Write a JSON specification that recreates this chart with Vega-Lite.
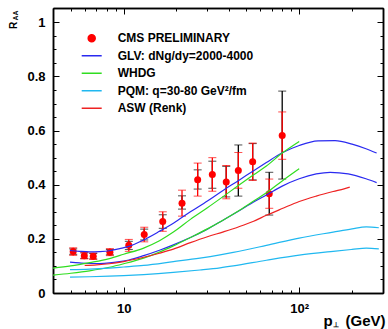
{
  "$schema": "https://vega.github.io/schema/vega-lite/v6.json",
  "width": 330,
  "height": 285,
  "autosize": "none",
  "padding": {"left": 53, "top": 8, "right": 5, "bottom": 36},
  "background": "white",
  "config": {
    "font": "Liberation Sans",
    "view": {"stroke": null},
    "axis": {"grid": false, "domainColor": "black", "domainWidth": 1.5, "tickColor": "black", "tickWidth": 1, "labelColor": "black", "titleColor": "black", "labelFont": "Liberation Sans", "titleFont": "Liberation Sans", "labelFontWeight": "bold", "titleFontWeight": "bold", "labelFlush": false, "labelOverlap": false}
  },
  "datasets": {
    "curves": [
      {"model": "GLV: dNg/dy=2000-4000", "curve": "GLV_2000", "pt": 4.95, "raa": 0.157},
      {"model": "GLV: dNg/dy=2000-4000", "curve": "GLV_2000", "pt": 5.6, "raa": 0.154},
      {"model": "GLV: dNg/dy=2000-4000", "curve": "GLV_2000", "pt": 6.4, "raa": 0.152},
      {"model": "GLV: dNg/dy=2000-4000", "curve": "GLV_2000", "pt": 7.3, "raa": 0.153},
      {"model": "GLV: dNg/dy=2000-4000", "curve": "GLV_2000", "pt": 8.3, "raa": 0.156},
      {"model": "GLV: dNg/dy=2000-4000", "curve": "GLV_2000", "pt": 9.5, "raa": 0.164},
      {"model": "GLV: dNg/dy=2000-4000", "curve": "GLV_2000", "pt": 10.7, "raa": 0.172},
      {"model": "GLV: dNg/dy=2000-4000", "curve": "GLV_2000", "pt": 13, "raa": 0.196},
      {"model": "GLV: dNg/dy=2000-4000", "curve": "GLV_2000", "pt": 16, "raa": 0.228},
      {"model": "GLV: dNg/dy=2000-4000", "curve": "GLV_2000", "pt": 19.2, "raa": 0.258},
      {"model": "GLV: dNg/dy=2000-4000", "curve": "GLV_2000", "pt": 24, "raa": 0.3},
      {"model": "GLV: dNg/dy=2000-4000", "curve": "GLV_2000", "pt": 30, "raa": 0.34},
      {"model": "GLV: dNg/dy=2000-4000", "curve": "GLV_2000", "pt": 37, "raa": 0.38},
      {"model": "GLV: dNg/dy=2000-4000", "curve": "GLV_2000", "pt": 45, "raa": 0.415},
      {"model": "GLV: dNg/dy=2000-4000", "curve": "GLV_2000", "pt": 55, "raa": 0.452},
      {"model": "GLV: dNg/dy=2000-4000", "curve": "GLV_2000", "pt": 65, "raa": 0.482},
      {"model": "GLV: dNg/dy=2000-4000", "curve": "GLV_2000", "pt": 80, "raa": 0.518},
      {"model": "GLV: dNg/dy=2000-4000", "curve": "GLV_2000", "pt": 100, "raa": 0.545},
      {"model": "GLV: dNg/dy=2000-4000", "curve": "GLV_2000", "pt": 128, "raa": 0.562},
      {"model": "GLV: dNg/dy=2000-4000", "curve": "GLV_2000", "pt": 160, "raa": 0.563},
      {"model": "GLV: dNg/dy=2000-4000", "curve": "GLV_2000", "pt": 200, "raa": 0.55},
      {"model": "GLV: dNg/dy=2000-4000", "curve": "GLV_2000", "pt": 240, "raa": 0.533},
      {"model": "GLV: dNg/dy=2000-4000", "curve": "GLV_2000", "pt": 276, "raa": 0.517},
      {"model": "GLV: dNg/dy=2000-4000", "curve": "GLV_4000", "pt": 4.95, "raa": 0.114},
      {"model": "GLV: dNg/dy=2000-4000", "curve": "GLV_4000", "pt": 5.6, "raa": 0.111},
      {"model": "GLV: dNg/dy=2000-4000", "curve": "GLV_4000", "pt": 6.4, "raa": 0.109},
      {"model": "GLV: dNg/dy=2000-4000", "curve": "GLV_4000", "pt": 7.3, "raa": 0.109},
      {"model": "GLV: dNg/dy=2000-4000", "curve": "GLV_4000", "pt": 8.3, "raa": 0.111},
      {"model": "GLV: dNg/dy=2000-4000", "curve": "GLV_4000", "pt": 9.5, "raa": 0.116},
      {"model": "GLV: dNg/dy=2000-4000", "curve": "GLV_4000", "pt": 10.7, "raa": 0.122},
      {"model": "GLV: dNg/dy=2000-4000", "curve": "GLV_4000", "pt": 13, "raa": 0.138},
      {"model": "GLV: dNg/dy=2000-4000", "curve": "GLV_4000", "pt": 16, "raa": 0.158},
      {"model": "GLV: dNg/dy=2000-4000", "curve": "GLV_4000", "pt": 19.2, "raa": 0.178},
      {"model": "GLV: dNg/dy=2000-4000", "curve": "GLV_4000", "pt": 24, "raa": 0.205},
      {"model": "GLV: dNg/dy=2000-4000", "curve": "GLV_4000", "pt": 30, "raa": 0.236},
      {"model": "GLV: dNg/dy=2000-4000", "curve": "GLV_4000", "pt": 37, "raa": 0.27},
      {"model": "GLV: dNg/dy=2000-4000", "curve": "GLV_4000", "pt": 45, "raa": 0.302},
      {"model": "GLV: dNg/dy=2000-4000", "curve": "GLV_4000", "pt": 55, "raa": 0.336},
      {"model": "GLV: dNg/dy=2000-4000", "curve": "GLV_4000", "pt": 65, "raa": 0.362},
      {"model": "GLV: dNg/dy=2000-4000", "curve": "GLV_4000", "pt": 80, "raa": 0.395},
      {"model": "GLV: dNg/dy=2000-4000", "curve": "GLV_4000", "pt": 100, "raa": 0.422},
      {"model": "GLV: dNg/dy=2000-4000", "curve": "GLV_4000", "pt": 125, "raa": 0.44},
      {"model": "GLV: dNg/dy=2000-4000", "curve": "GLV_4000", "pt": 150, "raa": 0.446},
      {"model": "GLV: dNg/dy=2000-4000", "curve": "GLV_4000", "pt": 190, "raa": 0.44},
      {"model": "GLV: dNg/dy=2000-4000", "curve": "GLV_4000", "pt": 240, "raa": 0.422},
      {"model": "GLV: dNg/dy=2000-4000", "curve": "GLV_4000", "pt": 276, "raa": 0.408},
      {"model": "WHDG", "curve": "WHDG_hi", "pt": 3.96, "raa": 0.092},
      {"model": "WHDG", "curve": "WHDG_hi", "pt": 5, "raa": 0.1},
      {"model": "WHDG", "curve": "WHDG_hi", "pt": 6.4, "raa": 0.112},
      {"model": "WHDG", "curve": "WHDG_hi", "pt": 8.3, "raa": 0.127},
      {"model": "WHDG", "curve": "WHDG_hi", "pt": 10, "raa": 0.143},
      {"model": "WHDG", "curve": "WHDG_hi", "pt": 13, "raa": 0.166},
      {"model": "WHDG", "curve": "WHDG_hi", "pt": 16, "raa": 0.193},
      {"model": "WHDG", "curve": "WHDG_hi", "pt": 19.2, "raa": 0.225},
      {"model": "WHDG", "curve": "WHDG_hi", "pt": 24, "raa": 0.272},
      {"model": "WHDG", "curve": "WHDG_hi", "pt": 30, "raa": 0.315},
      {"model": "WHDG", "curve": "WHDG_hi", "pt": 37, "raa": 0.357},
      {"model": "WHDG", "curve": "WHDG_hi", "pt": 45, "raa": 0.397},
      {"model": "WHDG", "curve": "WHDG_hi", "pt": 55, "raa": 0.437},
      {"model": "WHDG", "curve": "WHDG_hi", "pt": 65, "raa": 0.469},
      {"model": "WHDG", "curve": "WHDG_hi", "pt": 80, "raa": 0.517},
      {"model": "WHDG", "curve": "WHDG_hi", "pt": 100, "raa": 0.56},
      {"model": "WHDG", "curve": "WHDG_lo", "pt": 3.96, "raa": 0.066},
      {"model": "WHDG", "curve": "WHDG_lo", "pt": 5, "raa": 0.073},
      {"model": "WHDG", "curve": "WHDG_lo", "pt": 6.4, "raa": 0.082},
      {"model": "WHDG", "curve": "WHDG_lo", "pt": 8.3, "raa": 0.095},
      {"model": "WHDG", "curve": "WHDG_lo", "pt": 10, "raa": 0.108},
      {"model": "WHDG", "curve": "WHDG_lo", "pt": 13, "raa": 0.129},
      {"model": "WHDG", "curve": "WHDG_lo", "pt": 16, "raa": 0.151},
      {"model": "WHDG", "curve": "WHDG_lo", "pt": 19.2, "raa": 0.174},
      {"model": "WHDG", "curve": "WHDG_lo", "pt": 24, "raa": 0.205},
      {"model": "WHDG", "curve": "WHDG_lo", "pt": 30, "raa": 0.237},
      {"model": "WHDG", "curve": "WHDG_lo", "pt": 37, "raa": 0.27},
      {"model": "WHDG", "curve": "WHDG_lo", "pt": 45, "raa": 0.303},
      {"model": "WHDG", "curve": "WHDG_lo", "pt": 55, "raa": 0.34},
      {"model": "WHDG", "curve": "WHDG_lo", "pt": 65, "raa": 0.37},
      {"model": "WHDG", "curve": "WHDG_lo", "pt": 80, "raa": 0.414},
      {"model": "WHDG", "curve": "WHDG_lo", "pt": 100, "raa": 0.459},
      {"model": "PQM: q=30-80 GeV²/fm", "curve": "PQM_30", "pt": 4.95, "raa": 0.086},
      {"model": "PQM: q=30-80 GeV²/fm", "curve": "PQM_30", "pt": 6.4, "raa": 0.088},
      {"model": "PQM: q=30-80 GeV²/fm", "curve": "PQM_30", "pt": 8.3, "raa": 0.092},
      {"model": "PQM: q=30-80 GeV²/fm", "curve": "PQM_30", "pt": 10, "raa": 0.096},
      {"model": "PQM: q=30-80 GeV²/fm", "curve": "PQM_30", "pt": 13, "raa": 0.102},
      {"model": "PQM: q=30-80 GeV²/fm", "curve": "PQM_30", "pt": 19.2, "raa": 0.116},
      {"model": "PQM: q=30-80 GeV²/fm", "curve": "PQM_30", "pt": 27.2, "raa": 0.129},
      {"model": "PQM: q=30-80 GeV²/fm", "curve": "PQM_30", "pt": 35.4, "raa": 0.141},
      {"model": "PQM: q=30-80 GeV²/fm", "curve": "PQM_30", "pt": 42.1, "raa": 0.15},
      {"model": "PQM: q=30-80 GeV²/fm", "curve": "PQM_30", "pt": 65, "raa": 0.176},
      {"model": "PQM: q=30-80 GeV²/fm", "curve": "PQM_30", "pt": 100, "raa": 0.203},
      {"model": "PQM: q=30-80 GeV²/fm", "curve": "PQM_30", "pt": 156, "raa": 0.225},
      {"model": "PQM: q=30-80 GeV²/fm", "curve": "PQM_30", "pt": 200, "raa": 0.237},
      {"model": "PQM: q=30-80 GeV²/fm", "curve": "PQM_30", "pt": 241, "raa": 0.244},
      {"model": "PQM: q=30-80 GeV²/fm", "curve": "PQM_30", "pt": 284, "raa": 0.241},
      {"model": "PQM: q=30-80 GeV²/fm", "curve": "PQM_80", "pt": 4.95, "raa": 0.059},
      {"model": "PQM: q=30-80 GeV²/fm", "curve": "PQM_80", "pt": 6.4, "raa": 0.06},
      {"model": "PQM: q=30-80 GeV²/fm", "curve": "PQM_80", "pt": 8.3, "raa": 0.062},
      {"model": "PQM: q=30-80 GeV²/fm", "curve": "PQM_80", "pt": 10, "raa": 0.064},
      {"model": "PQM: q=30-80 GeV²/fm", "curve": "PQM_80", "pt": 13, "raa": 0.068},
      {"model": "PQM: q=30-80 GeV²/fm", "curve": "PQM_80", "pt": 19.2, "raa": 0.076},
      {"model": "PQM: q=30-80 GeV²/fm", "curve": "PQM_80", "pt": 27.2, "raa": 0.085},
      {"model": "PQM: q=30-80 GeV²/fm", "curve": "PQM_80", "pt": 35.4, "raa": 0.093},
      {"model": "PQM: q=30-80 GeV²/fm", "curve": "PQM_80", "pt": 42.1, "raa": 0.1},
      {"model": "PQM: q=30-80 GeV²/fm", "curve": "PQM_80", "pt": 65, "raa": 0.121},
      {"model": "PQM: q=30-80 GeV²/fm", "curve": "PQM_80", "pt": 100, "raa": 0.14},
      {"model": "PQM: q=30-80 GeV²/fm", "curve": "PQM_80", "pt": 156, "raa": 0.154},
      {"model": "PQM: q=30-80 GeV²/fm", "curve": "PQM_80", "pt": 200, "raa": 0.161},
      {"model": "PQM: q=30-80 GeV²/fm", "curve": "PQM_80", "pt": 241, "raa": 0.166},
      {"model": "PQM: q=30-80 GeV²/fm", "curve": "PQM_80", "pt": 284, "raa": 0.163},
      {"model": "ASW (Renk)", "curve": "ASW", "pt": 6.0, "raa": 0.102},
      {"model": "ASW (Renk)", "curve": "ASW", "pt": 7, "raa": 0.104},
      {"model": "ASW (Renk)", "curve": "ASW", "pt": 8.3, "raa": 0.108},
      {"model": "ASW (Renk)", "curve": "ASW", "pt": 10, "raa": 0.116},
      {"model": "ASW (Renk)", "curve": "ASW", "pt": 13, "raa": 0.132},
      {"model": "ASW (Renk)", "curve": "ASW", "pt": 16, "raa": 0.147},
      {"model": "ASW (Renk)", "curve": "ASW", "pt": 19.2, "raa": 0.162},
      {"model": "ASW (Renk)", "curve": "ASW", "pt": 24, "raa": 0.186},
      {"model": "ASW (Renk)", "curve": "ASW", "pt": 30, "raa": 0.208},
      {"model": "ASW (Renk)", "curve": "ASW", "pt": 37, "raa": 0.226},
      {"model": "ASW (Renk)", "curve": "ASW", "pt": 45, "raa": 0.244},
      {"model": "ASW (Renk)", "curve": "ASW", "pt": 55, "raa": 0.265},
      {"model": "ASW (Renk)", "curve": "ASW", "pt": 65, "raa": 0.287},
      {"model": "ASW (Renk)", "curve": "ASW", "pt": 80, "raa": 0.312},
      {"model": "ASW (Renk)", "curve": "ASW", "pt": 100, "raa": 0.338},
      {"model": "ASW (Renk)", "curve": "ASW", "pt": 125, "raa": 0.358},
      {"model": "ASW (Renk)", "curve": "ASW", "pt": 156, "raa": 0.375},
      {"model": "ASW (Renk)", "curve": "ASW", "pt": 180, "raa": 0.385},
      {"model": "ASW (Renk)", "curve": "ASW", "pt": 194, "raa": 0.391}
    ],
    "cms": [
      {"model": "CMS PRELIMINARY", "pt": 5.16, "raa": 0.153, "stat_lo": 0.139, "stat_hi": 0.167, "sys_lo": 0.143, "sys_hi": 0.163},
      {"model": "CMS PRELIMINARY", "pt": 5.97, "raa": 0.138, "stat_lo": 0.126, "stat_hi": 0.15, "sys_lo": 0.128, "sys_hi": 0.148},
      {"model": "CMS PRELIMINARY", "pt": 6.71, "raa": 0.136, "stat_lo": 0.124, "stat_hi": 0.148, "sys_lo": 0.126, "sys_hi": 0.146},
      {"model": "CMS PRELIMINARY", "pt": 8.35, "raa": 0.151, "stat_lo": 0.138, "stat_hi": 0.164, "sys_lo": 0.141, "sys_hi": 0.161},
      {"model": "CMS PRELIMINARY", "pt": 10.7, "raa": 0.176, "stat_lo": 0.154, "stat_hi": 0.198, "sys_lo": 0.161, "sys_hi": 0.191},
      {"model": "CMS PRELIMINARY", "pt": 13.1, "raa": 0.216, "stat_lo": 0.189, "stat_hi": 0.243, "sys_lo": 0.196, "sys_hi": 0.236},
      {"model": "CMS PRELIMINARY", "pt": 16.7, "raa": 0.264, "stat_lo": 0.228, "stat_hi": 0.3, "sys_lo": 0.239, "sys_hi": 0.289},
      {"model": "CMS PRELIMINARY", "pt": 21.5, "raa": 0.332, "stat_lo": 0.284, "stat_hi": 0.38, "sys_lo": 0.31, "sys_hi": 0.359},
      {"model": "CMS PRELIMINARY", "pt": 26.4, "raa": 0.418, "stat_lo": 0.358, "stat_hi": 0.48, "sys_lo": 0.384, "sys_hi": 0.455},
      {"model": "CMS PRELIMINARY", "pt": 32.0, "raa": 0.438, "stat_lo": 0.376, "stat_hi": 0.5, "sys_lo": 0.387, "sys_hi": 0.487},
      {"model": "CMS PRELIMINARY", "pt": 38.4, "raa": 0.41, "stat_lo": 0.348, "stat_hi": 0.471, "sys_lo": 0.355, "sys_hi": 0.468},
      {"model": "CMS PRELIMINARY", "pt": 45.0, "raa": 0.453, "stat_lo": 0.387, "stat_hi": 0.519, "sys_lo": 0.358, "sys_hi": 0.547},
      {"model": "CMS PRELIMINARY", "pt": 54.3, "raa": 0.485, "stat_lo": 0.416, "stat_hi": 0.554, "sys_lo": 0.418, "sys_hi": 0.552},
      {"model": "CMS PRELIMINARY", "pt": 67.5, "raa": 0.367, "stat_lo": 0.313, "stat_hi": 0.421, "sys_lo": 0.288, "sys_hi": 0.446},
      {"model": "CMS PRELIMINARY", "pt": 80.0, "raa": 0.582, "stat_lo": 0.494, "stat_hi": 0.669, "sys_lo": 0.421, "sys_hi": 0.746}
    ]
  },
  "resolve": {"axis": {"x": "independent", "y": "independent"}},
  "layer": [
    {
      "data": {"name": "cms"},
      "mark": {"type": "errorbar", "ticks": {"size": 8, "color": "black"}, "rule": {"color": "black", "strokeWidth": 1.3}},
      "encoding": {
        "x": {"field": "pt", "type": "quantitative", "scale": {"type": "log", "domain": [3.96, 300], "nice": false},
          "axis": {"orient": "bottom", "values": [5, 6, 7, 8, 9, 20, 30, 40, 50, 60, 70, 80, 90, 200, 300], "tickSize": -3, "labels": false,
            "title": "p", "titleFontSize": 15, "titleAnchor": "start", "titleAlign": "left", "titleBaseline": "alphabetic", "titleX": 270, "titleY": 32}},
        "y": {"field": "sys_lo", "type": "quantitative", "scale": {"domain": [0, 1.053], "nice": false, "zero": false},
          "axis": {"orient": "left", "values": [0.05, 0.1, 0.15, 0.25, 0.3, 0.35, 0.45, 0.5, 0.55, 0.65, 0.7, 0.75, 0.85, 0.9, 0.95], "tickSize": -3, "labels": false, "title": null}},
        "y2": {"field": "sys_hi"}
      }
    },
    {
      "data": {"name": "cms"},
      "mark": {"type": "errorbar", "ticks": {"size": 8, "color": "#ff0000"}, "rule": {"color": "#ff0000", "strokeWidth": 1.3}},
      "encoding": {
        "x": {"field": "pt", "type": "quantitative",
          "axis": {"orient": "top", "values": [10, 100], "tickSize": -6, "labels": false,
            "title": "⊥", "titleFontSize": 7, "titleAnchor": "start", "titleAlign": "left", "titleBaseline": "alphabetic", "titleX": 279.5, "titleY": 318}},
        "y": {"field": "stat_lo", "type": "quantitative",
          "axis": {"orient": "right", "values": [0, 0.2, 0.4, 0.6, 0.8, 1], "tickSize": -6, "labels": false, "title": null}},
        "y2": {"field": "stat_hi"}
      }
    },
    {
      "data": {"name": "cms"},
      "mark": {"type": "point", "filled": true, "size": 49, "opacity": 1, "shape": "circle"},
      "encoding": {
        "x": {"field": "pt", "type": "quantitative",
          "axis": {"orient": "top", "values": [5, 6, 7, 8, 9, 20, 30, 40, 50, 60, 70, 80, 90, 200, 300], "tickSize": -3, "labels": false, "title": null}},
        "y": {"field": "raa", "type": "quantitative",
          "axis": {"orient": "right", "values": [0.05, 0.1, 0.15, 0.25, 0.3, 0.35, 0.45, 0.5, 0.55, 0.65, 0.7, 0.75, 0.85, 0.9, 0.95], "tickSize": -3, "labels": false, "title": null}},
        "color": {"field": "model", "type": "nominal",
          "scale": {"domain": ["CMS PRELIMINARY", "GLV: dNg/dy=2000-4000", "WHDG", "PQM: q=30-80 GeV²/fm", "ASW (Renk)"], "range": ["#ff0000", "#2a2af0", "#30dd20", "#20b8f0", "#ee2222"]},
          "legend": {"orient": "none", "legendX": 27.7, "legendY": 24.3, "title": null, "padding": 0, "symbolSize": 400, "symbolType": "stroke", "clipHeight": 12, "rowPadding": 5.5, "labelOffset": 15, "labelFont": "Liberation Sans", "labelFontWeight": "bold", "labelFontSize": 12, "labelColor": "black", "labelLimit": 300,
            "encode": {"symbols": {"update": {
              "shape": {"signal": "datum.value === 'CMS PRELIMINARY' ? 'circle' : 'stroke'"},
              "size": {"signal": "datum.value === 'CMS PRELIMINARY' ? 49 : 400"},
              "fill": {"signal": "datum.value === 'CMS PRELIMINARY' ? '#ff0000' : 'transparent'"},
              "stroke": {"signal": "datum.value === 'CMS PRELIMINARY' ? 'transparent' : scale('color', datum.value)"},
              "strokeWidth": {"value": 1.5},
              "opacity": {"value": 1}
            }}}}
        }
      }
    },
    {
      "data": {"name": "curves"},
      "mark": {"type": "line", "strokeWidth": 1.2, "interpolate": "monotone", "clip": true},
      "encoding": {
        "x": {"field": "pt", "type": "quantitative",
          "axis": {"orient": "bottom", "values": [10, 100], "tickSize": -6, "labelPadding": 15, "labelFontSize": 13,
            "labelExpr": "datum.value == 10 ? '10' : '10²'",
            "title": "(GeV)", "titleFontSize": 15, "titleAnchor": "end", "titleAlign": "right", "titleBaseline": "alphabetic", "titleX": 332, "titleY": 32}},
        "y": {"field": "raa", "type": "quantitative",
          "axis": {"orient": "left", "values": [0, 0.2, 0.4, 0.6, 0.8, 1], "tickSize": -6, "labelPadding": 14, "labelFontSize": 13,
            "labelExpr": "datum.value == 0 ? '0' : datum.value == 1 ? '1' : format(datum.value, '.1f')",
            "title": "R", "titleFontSize": 10, "titleAngle": -90, "titleAlign": "center", "titleBaseline": "alphabetic", "titleX": -36.3, "titleY": 17}},
        "color": {"field": "model", "type": "nominal",
          "legend": {"orient": "none", "legendX": 27.7, "legendY": 24.3, "title": null, "padding": 0, "symbolSize": 400, "symbolType": "stroke", "clipHeight": 12, "rowPadding": 5.5, "labelOffset": 15, "labelFont": "Liberation Sans", "labelFontWeight": "bold", "labelFontSize": 12, "labelColor": "black", "labelLimit": 300,
            "encode": {"symbols": {"update": {
              "shape": {"signal": "datum.value === 'CMS PRELIMINARY' ? 'circle' : 'stroke'"},
              "size": {"signal": "datum.value === 'CMS PRELIMINARY' ? 49 : 400"},
              "fill": {"signal": "datum.value === 'CMS PRELIMINARY' ? '#ff0000' : 'transparent'"},
              "stroke": {"signal": "datum.value === 'CMS PRELIMINARY' ? 'transparent' : scale('color', datum.value)"},
              "strokeWidth": {"value": 1.5},
              "opacity": {"value": 1}
            }}}}
        },
        "detail": {"field": "curve", "type": "nominal"}
      }
    },
    {
      "mark": {"type": "rule", "color": "black", "strokeWidth": 1, "strokeDash": [2, 2]},
      "encoding": {
        "y": {"datum": 1, "type": "quantitative",
          "axis": {"orient": "left", "domain": false, "ticks": false, "labels": false, "title": "AA", "titleFontSize": 7, "titleAngle": -90, "titleAlign": "center", "titleBaseline": "alphabetic", "titleX": -35.5, "titleY": 7}}
      }
    }
  ]
}
